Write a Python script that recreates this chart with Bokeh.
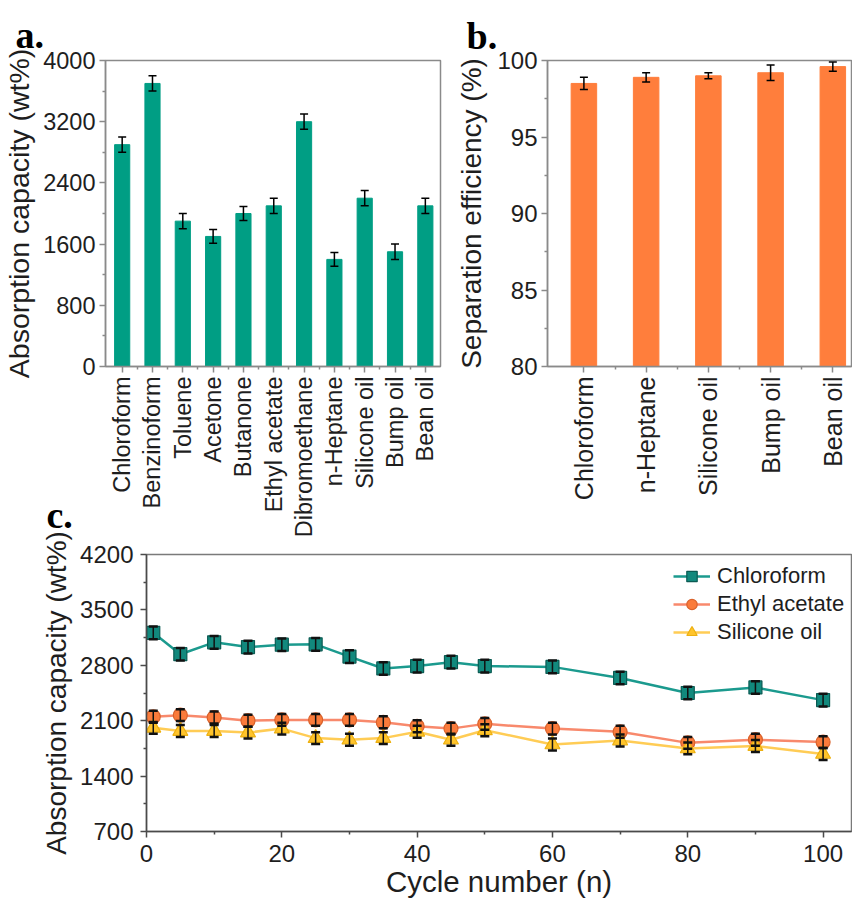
import numpy as np
from bokeh.plotting import figure
from bokeh.models import (ColumnDataSource, Range1d, FixedTicker, Whisker, TeeHead,
                          Legend, LegendItem)
from bokeh.layouts import column, row
from bokeh.embed import file_html
from bokeh.resources import INLINE

# ---------------- data ----------------
solvents_a = ["Chloroform", "Benzinoform", "Toluene", "Acetone", "Butanone", "Ethyl acetate",
              "Dibromoethane", "n-Heptane", "Silicone oil", "Bump oil", "Bean oil"]
capacity_a = [2900, 3700, 1900, 1700, 2000, 2100, 3200, 1400, 2200, 1500, 2100]
capacity_a_err = [100, 100, 100, 90, 90, 100, 100, 90, 100, 100, 100]

oils_b = ["Chloroform", "n-Heptane", "Silicone oil", "Bump oil", "Bean oil"]
efficiency_b = [98.5, 98.9, 99.0, 99.2, 99.6]
efficiency_b_err = [0.4, 0.3, 0.2, 0.5, 0.3]

cycles = [1, 5, 10, 15, 20, 25, 30, 35, 40, 45, 50, 60, 70, 80, 90, 100]
chloroform_c = [3210, 2940, 3090, 3030, 3060, 3065, 2910, 2760, 2790, 2840, 2790, 2780, 2640, 2450, 2520, 2360]
ethyl_c = [2150, 2170, 2140, 2100, 2110, 2110, 2110, 2080, 2030, 2000, 2060, 2000, 1960, 1820, 1860, 1830]
silicone_c = [2010, 1970, 1970, 1950, 2000, 1880, 1860, 1880, 1960, 1860, 1980, 1800, 1850, 1750, 1780, 1680]
chloroform_c_err = [80] * len(cycles)
ethyl_c_err = [75] * len(cycles)
silicone_c_err = [75] * len(cycles)

y_ticks_a = [0, 800, 1600, 2400, 3200, 4000]
y_ticks_b = [80, 85, 90, 95, 100]
y_ticks_c = [700, 1400, 2100, 2800, 3500, 4200]
x_ticks_c = [0, 20, 40, 60, 80, 100]

# ---------------- style ----------------
FONT = "Liberation Sans"
SERIF = "Liberation Serif"
TXT = "#1e1e1e"
TEAL = "#009E84"
ORANGE = "#FF7E3C"
FRAME = "#8a8a8a"


def style_axes(p, axis_color, tick_size, title_size):
    p.outline_line_color = FRAME
    p.outline_line_width = 1.5
    p.xgrid.visible = False
    p.ygrid.visible = False
    for ax in (p.xaxis[0], p.yaxis[0]):
        ax.axis_line_color = axis_color
        ax.axis_line_width = 1.5
        ax.major_tick_line_color = axis_color
        ax.minor_tick_line_color = axis_color
        ax.major_tick_line_width = 1.5
        ax.minor_tick_line_width = 1.5
        ax.major_tick_in = 0
        ax.major_tick_out = 6
        ax.minor_tick_in = 0
        ax.minor_tick_out = 3
        ax.major_label_text_font = FONT
        ax.major_label_text_font_size = tick_size
        ax.major_label_text_color = TXT
        ax.axis_label_text_font = FONT
        ax.axis_label_text_font_size = title_size
        ax.axis_label_text_font_style = "normal"
        ax.axis_label_text_color = TXT
        ax.major_label_standoff = 4


def panel_letter(p, offset, standoff):
    t = p.title
    t.align = "left"
    t.offset = offset
    t.standoff = standoff
    t.text_font = SERIF
    t.text_font_style = "bold"
    t.text_font_size = "38px"
    t.text_color = "#000000"


# ---------------- panel a ----------------
x_a = list(range(len(solvents_a)))
src_a = ColumnDataSource(dict(
    x=x_a, top=capacity_a,
    upper=[v + e for v, e in zip(capacity_a, capacity_a_err)],
    lower=[v - e for v, e in zip(capacity_a, capacity_a_err)]))

pa = figure(width=453, height=540, x_range=Range1d(-0.55, 10.5), y_range=Range1d(0, 4000),
            title="a.", output_backend="svg", toolbar_location=None,
            min_border_left=103, min_border_right=13, min_border_top=60, min_border_bottom=173)
pa.vbar(x="x", top="top", width=0.5, source=src_a, fill_color=TEAL, line_color=TEAL)
pa.add_layout(Whisker(source=src_a, base="x", upper="upper", lower="lower", dimension="height",
                      line_color="black", line_width=1.5, level="annotation",
                      upper_head=TeeHead(size=8, line_color="black", line_width=1.5),
                      lower_head=TeeHead(size=8, line_color="black", line_width=1.5)))
style_axes(pa, FRAME, "23.5px", "28.5px")
pa.xaxis.ticker = FixedTicker(ticks=x_a, minor_ticks=[i + 0.5 for i in x_a[:-1]])
pa.xaxis.major_label_overrides = {i: s for i, s in zip(x_a, solvents_a)}
pa.xaxis.major_label_orientation = np.pi / 2
pa.yaxis.ticker = FixedTicker(ticks=y_ticks_a, minor_ticks=[t + 400 for t in y_ticks_a[:-1]])
pa.yaxis.axis_label = "Absorption capacity (wt%)"
pa.yaxis.axis_label_standoff = 5
panel_letter(pa, -90, 9)

# ---------------- panel b ----------------
x_b = list(range(len(oils_b)))
src_b = ColumnDataSource(dict(
    x=x_b, top=efficiency_b,
    upper=[v + e for v, e in zip(efficiency_b, efficiency_b_err)],
    lower=[v - e for v, e in zip(efficiency_b, efficiency_b_err)]))

pb = figure(width=399, height=540, x_range=Range1d(-0.585, 4.30), y_range=Range1d(80, 100),
            title="b.", output_backend="svg", toolbar_location=None,
            min_border_left=89, min_border_right=1, min_border_top=58, min_border_bottom=173)
pb.vbar(x="x", top="top", bottom=80, width=0.41, source=src_b, fill_color=ORANGE, line_color=ORANGE)
pb.add_layout(Whisker(source=src_b, base="x", upper="upper", lower="lower", dimension="height",
                      line_color="black", line_width=1.5, level="annotation",
                      upper_head=TeeHead(size=8, line_color="black", line_width=1.5),
                      lower_head=TeeHead(size=8, line_color="black", line_width=1.5)))
style_axes(pb, FRAME, "24px", "28px")
pb.xaxis.major_label_text_font_size = "25px"
pb.xaxis.ticker = FixedTicker(ticks=x_b, minor_ticks=[i + 0.5 for i in x_b])
pb.xaxis.major_label_overrides = {i: s for i, s in zip(x_b, oils_b)}
pb.xaxis.major_label_orientation = np.pi / 2
pb.yaxis.ticker = FixedTicker(ticks=y_ticks_b, minor_ticks=[t + 2.5 for t in y_ticks_b[:-1]])
pb.yaxis.axis_label = "Separation efficiency (%)"
pb.yaxis.axis_label_standoff = 7
panel_letter(pb, -81, 7)

# ---------------- panel c ----------------
pc = figure(width=852, height=441, x_range=Range1d(0, 104.2), y_range=Range1d(700, 4200),
            title="c.", output_backend="svg", toolbar_location=None,
            min_border_left=146, min_border_right=1, min_border_top=95, min_border_bottom=65)
pc.margin = (-81, 0, 0, 0)
pc.border_fill_alpha = 0
style_axes(pc, "#4a4a4a", "24px", "28px")
pc.outline_line_color = "#7a7a7a"
pc.xaxis.axis_label_text_font_size = "29.5px"
pc.yaxis.major_label_standoff = 7
pc.xaxis.major_label_standoff = 7
pc.xaxis.ticker = FixedTicker(ticks=x_ticks_c, minor_ticks=[t + 10 for t in x_ticks_c])
pc.yaxis.ticker = FixedTicker(ticks=y_ticks_c, minor_ticks=[t + 350 for t in y_ticks_c[:-1]])
pc.yaxis.axis_label = "Absorption capacity (wt%)"
pc.yaxis.axis_label_standoff = 5
pc.xaxis.axis_label = "Cycle number (n)"
pc.xaxis.axis_label_standoff = 0
panel_letter(pc, -100, 37)

series = [
    ("Chloroform", chloroform_c, chloroform_c_err, "#1B9A8E", "#12897D", "#0B5B53", "square", 13),
    ("Ethyl acetate", ethyl_c, ethyl_c_err, "#F8896C", "#FA7B3B", "#D9622C", "circle", 14),
    ("Silicone oil", silicone_c, silicone_c_err, "#FFCC55", "#FFC42C", "#EDB010", "triangle", 15),
]
items = []
for name, vals, errs, lc, fc, ec, marker, size in series:
    src = ColumnDataSource(dict(x=cycles, y=vals,
                                upper=[v + e for v, e in zip(vals, errs)],
                                lower=[v - e for v, e in zip(vals, errs)]))
    ln = pc.line("x", "y", source=src, line_color=lc, line_width=2.5)
    sc = pc.scatter("x", "y", source=src, marker=marker, size=size,
                    fill_color=fc, line_color=ec, line_width=1.2)
    items.append((name, ln, sc, src))
for name, ln, sc, src in items:
    pc.add_layout(Whisker(source=src, base="x", upper="upper", lower="lower", dimension="height",
                          line_color="#111111", line_width=1.5, level="annotation",
                          upper_head=TeeHead(size=9, line_color="#111111", line_width=2.5),
                          lower_head=TeeHead(size=9, line_color="#111111", line_width=2.5)))

legend = Legend(items=[LegendItem(label=n, renderers=[ln, sc]) for n, ln, sc, _ in items],
                location=(527, 186), padding=0, margin=0, spacing=2,
                glyph_width=37, glyph_height=26, label_height=26, label_standoff=7,
                label_text_font=FONT, label_text_font_size="22px", label_text_color=TXT,
                background_fill_alpha=0, border_line_alpha=0)
pc.add_layout(legend, "center")

layout = column(row(pa, pb), pc)
with open("out.html", "w") as f:
    f.write(file_html(layout, INLINE))
